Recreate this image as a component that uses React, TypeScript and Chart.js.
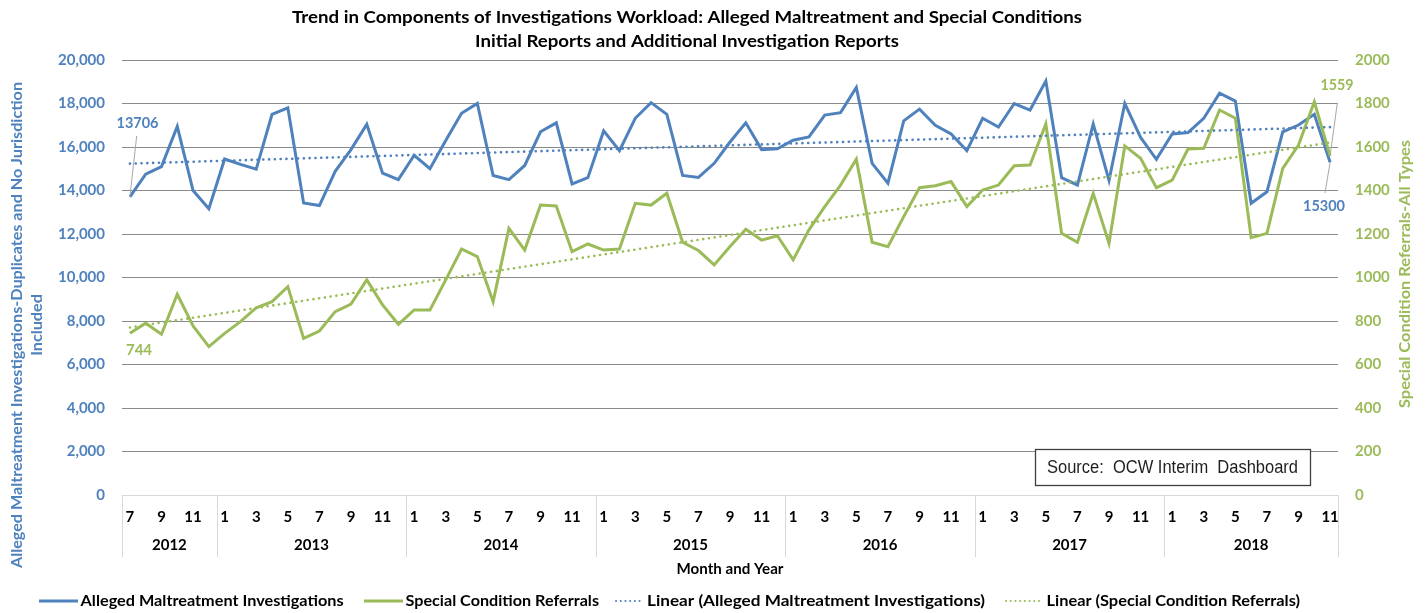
import React, { useEffect, useRef } from "react";
import { Chart, registerables } from "chart.js";

Chart.register(...registerables);

// ---------- data ----------
const YEARS = [2012, 2013, 2014, 2015, 2016, 2017, 2018];
const YEAR_MONTHS: number[][] = [
  [7, 8, 9, 10, 11, 12],
  [1, 2, 3, 4, 5, 6, 7, 8, 9, 10, 11, 12],
  [1, 2, 3, 4, 5, 6, 7, 8, 9, 10, 11, 12],
  [1, 2, 3, 4, 5, 6, 7, 8, 9, 10, 11, 12],
  [1, 2, 3, 4, 5, 6, 7, 8, 9, 10, 11, 12],
  [1, 2, 3, 4, 5, 6, 7, 8, 9, 10, 11, 12],
  [1, 2, 3, 4, 5, 6, 7, 8, 9, 10, 11],
];

const ALLEGED = [
  13706, 14750, 15100, 16950, 14000, 13160,
  15450, 15200, 14980, 17500, 17800, 13430, 13310, 14880, 15880, 17040, 14800, 14500,
  15620, 15000, 16300, 17550, 18000, 14690, 14500, 15150, 16700, 17110, 14300, 14590,
  16740, 15830, 17320, 18040, 17500, 14690, 14600, 15250, 16230, 17110, 15880, 15920,
  16310, 16460, 17470, 17580, 18740, 15250, 14340, 17200, 17740, 17000, 16600, 15830,
  17320, 16920, 18000, 17700, 19030, 14590, 14250, 17060, 14460, 18000, 16440, 15430,
  16600, 16660, 17320, 18470, 18110, 13410, 13940, 16700, 17010, 17500, 15300,
];

const SPECIAL = [
  744, 790, 739, 923, 777, 682,
  743, 797, 861, 889, 958, 720, 754, 843, 878, 989, 874, 785,
  851, 851, 989, 1131, 1096, 889, 1226, 1126, 1333, 1329, 1119, 1154,
  1126, 1131, 1341, 1333, 1387, 1162, 1124, 1058, 1142, 1222, 1172, 1192,
  1081, 1219, 1326, 1425, 1544, 1162, 1142, 1280, 1413, 1422, 1441, 1326,
  1402, 1425, 1514, 1517, 1706, 1203, 1162, 1387, 1157, 1605, 1548, 1413,
  1448, 1591, 1594, 1770, 1732, 1183, 1203, 1502, 1609, 1808, 1559,
];

const LEFT_TICKS_MAX = 20000;
const LEFT_STEP = 2000;
const RIGHT_TICKS_MAX = 2000;
const RIGHT_STEP = 200;

const TITLE_LINES = [
  "Trend in Components of Investigations Workload: Alleged Maltreatment and Special Conditions",
  "Initial Reports and Additional Investigation Reports",
];
const LEFT_TITLE = [
  "Alleged Maltreatment Investigations-Duplicates and No Jurisdiction",
  "Included",
];
const RIGHT_TITLE = "Special Condition Referrals-All Types";
const X_TITLE = "Month and Year";
const SOURCE = "Source:  OCW Interim  Dashboard";
const SERIES_NAMES = ["Alleged Maltreatment Investigations", "Special Condition Referrals"];
const TREND_NAMES = [
  "Linear (Alleged Maltreatment Investigations)",
  "Linear (Special Condition Referrals)",
];

// categories built from the year/month lists
const CATEGORIES: string[] = [];
const CAT_MONTH: number[] = [];
YEAR_MONTHS.forEach((ms, yi) =>
  ms.forEach((m) => {
    CATEGORIES.push(`${m}/${YEARS[yi]}`);
    CAT_MONTH.push(m);
  })
);

// least-squares linear trend (as a spreadsheet "Linear" trendline)
function linearTrend(v: number[]): number[] {
  const n = v.length;
  let sx = 0, sy = 0, sxx = 0, sxy = 0;
  for (let i = 0; i < n; i++) {
    const x = i + 1;
    sx += x; sy += v[i]; sxx += x * x; sxy += x * v[i];
  }
  const b = (n * sxy - sx * sy) / (n * sxx - sx * sx);
  const a = (sy - b * sx) / n;
  return v.map((_, i) => a + b * (i + 1));
}

// ---------- style ----------
const BLUE = "#4F81BD";
const GREEN = "#9BBB59";
const FONT = "Lato, 'Open Sans', sans-serif";
const SRC_FONT = "'Liberation Sans', Arial, sans-serif";

function drawText(
  ctx: CanvasRenderingContext2D,
  text: string,
  x: number,
  y: number,
  size: number,
  weight: string,
  color: string,
  targetW: number | null,
  align: CanvasTextAlign = "center",
  rotate = 0,
  family = FONT,
  fixedScale?: number
): number {
  ctx.save();
  ctx.font = `${weight} ${size}px ${family}`;
  const w = ctx.measureText(text).width;
  const sx = fixedScale !== undefined ? fixedScale : targetW ? targetW / w : 1;
  ctx.translate(x, y);
  if (rotate) ctx.rotate(rotate);
  ctx.scale(sx, 1);
  ctx.textAlign = align;
  ctx.textBaseline = "middle";
  ctx.fillStyle = color;
  ctx.fillText(text, 0, 0);
  ctx.restore();
  return sx;
}

function line(ctx: CanvasRenderingContext2D, x1: number, y1: number, x2: number, y2: number, color: string, w: number, dash?: number[]) {
  ctx.save();
  ctx.strokeStyle = color;
  ctx.lineWidth = w;
  if (dash) {
    ctx.setLineDash(dash);
    ctx.lineCap = "round";
  }
  ctx.beginPath();
  ctx.moveTo(x1, y1);
  ctx.lineTo(x2, y2);
  ctx.stroke();
  ctx.restore();
}

const decorPlugin = {
  id: "decor",
  afterDraw(chart: any) {
    const ctx: CanvasRenderingContext2D = chart.ctx;
    const ca = chart.chartArea;
    const xs = chart.scales.x;
    const n = CATEGORIES.length;
    const cw = (ca.right - ca.left) / n;

    // title
    const s1 = drawText(ctx, TITLE_LINES[0], 687, 18, 17, "bold", "#000", 790);
    drawText(ctx, TITLE_LINES[1], 687, 42, 17, "bold", "#000", null, "center", 0, FONT, s1);

    // month labels (every other)
    for (let i = 0; i < n; i += 2) {
      drawText(ctx, String(CAT_MONTH[i]), xs.getPixelForValue(i), 517, 15, "bold", "#000", null);
    }
    // year labels & separators
    let start = 0;
    line(ctx, ca.left + 0.5, ca.bottom, ca.left + 0.5, 557, "#d9d9d9", 1);
    YEAR_MONTHS.forEach((ms, yi) => {
      const end = start + ms.length;
      const x0 = ca.left + start * cw;
      const x1 = ca.left + end * cw;
      drawText(ctx, String(YEARS[yi]), (x0 + x1) / 2, 545, 15, "bold", "#000", null);
      line(ctx, Math.round(x1) + 0.5, ca.bottom, Math.round(x1) + 0.5, 557, "#d9d9d9", 1);
      start = end;
    });
    drawText(ctx, X_TITLE, (ca.left + ca.right) / 2, 569, 15, "bold", "#000", 107);

    // axis titles
    const ls = drawText(ctx, LEFT_TITLE[0], 17, 325, 15, "bold", BLUE, 486, "center", -Math.PI / 2);
    drawText(ctx, LEFT_TITLE[1], 37, 325, 15, "bold", BLUE, null, "center", -Math.PI / 2, FONT, ls);
    drawText(ctx, RIGHT_TITLE, 1405, 274, 15, "bold", GREEN, 268, "center", -Math.PI / 2);

    // data labels with leader lines
    const mA = chart.getDatasetMeta(0).data;
    const mS = chart.getDatasetMeta(1).data;
    const pA0 = mA[0], pAL = mA[mA.length - 1], pSL = mS[mS.length - 1];
    line(ctx, 136.7, 136, pA0.x, pA0.y, "#a6a6a6", 1);
    drawText(ctx, String(ALLEGED[0]), 137.5, 123, 15, "bold", BLUE, 42);
    drawText(ctx, String(SPECIAL[0]), 139, 350, 15, "bold", GREEN, null);
    line(ctx, 1337.3, 103, pSL.x, pSL.y, "#a6a6a6", 1);
    drawText(ctx, String(SPECIAL[SPECIAL.length - 1]), 1337, 85, 15, "bold", GREEN, 33);
    line(ctx, 1325, 193, pAL.x, pAL.y, "#a6a6a6", 1);
    drawText(ctx, String(ALLEGED[ALLEGED.length - 1]), 1324, 206, 15, "bold", BLUE, 42);

    // source box
    ctx.save();
    ctx.fillStyle = "#fff";
    ctx.fillRect(1035.5, 449.5, 275, 36);
    ctx.strokeStyle = "#3f3f3f";
    ctx.lineWidth = 1.3;
    ctx.strokeRect(1035.5, 449.5, 275, 36);
    ctx.restore();
    drawText(ctx, SOURCE, 1047, 468, 18, "normal", "#1f1f1f", 251, "left", 0, SRC_FONT);

    // legend
    const ly = 601;
    line(ctx, 39, ly, 78, ly, BLUE, 3);
    drawText(ctx, SERIES_NAMES[0], 80.6, ly, 15, "bold", "#000", 263, "left");
    line(ctx, 364, ly, 403, ly, GREEN, 3);
    drawText(ctx, SERIES_NAMES[1], 405.5, ly, 15, "bold", "#000", 193.5, "left");
    line(ctx, 616, ly, 644, ly, BLUE, 2, [0.1, 4.6]);
    drawText(ctx, TREND_NAMES[0], 647, ly, 15, "bold", "#000", 338, "left");
    line(ctx, 1006, ly, 1042, ly, GREEN, 2, [0.1, 4.6]);
    drawText(ctx, TREND_NAMES[1], 1046.5, ly, 15, "bold", "#000", 253.5, "left");
  },
};

export default function App() {
  const ref = useRef<HTMLCanvasElement | null>(null);

  useEffect(() => {
    if (!ref.current) return;
    const trendA = linearTrend(ALLEGED);
    const trendS = linearTrend(SPECIAL);
    const chart = new Chart(ref.current, {
      type: "line",
      data: {
        labels: CATEGORIES,
        datasets: [
          {
            label: SERIES_NAMES[0],
            data: ALLEGED,
            yAxisID: "y",
            borderColor: BLUE,
            backgroundColor: BLUE,
            borderWidth: 3,
            pointRadius: 0,
            tension: 0,
            order: 4,
          },
          {
            label: SERIES_NAMES[1],
            data: SPECIAL,
            yAxisID: "y1",
            borderColor: GREEN,
            backgroundColor: GREEN,
            borderWidth: 3,
            pointRadius: 0,
            tension: 0,
            order: 3,
          },
          {
            label: TREND_NAMES[0],
            data: trendA,
            yAxisID: "y",
            borderColor: BLUE,
            borderWidth: 2.6,
            borderDash: [0.1, 5.7],
            borderCapStyle: "round",
            pointRadius: 0,
            order: 2,
          },
          {
            label: TREND_NAMES[1],
            data: trendS,
            yAxisID: "y1",
            borderColor: GREEN,
            borderWidth: 2.6,
            borderDash: [0.1, 5.7],
            borderCapStyle: "round",
            pointRadius: 0,
            order: 1,
          },
        ],
      },
      options: {
        responsive: false,
        maintainAspectRatio: false,
        devicePixelRatio: 1,
        animation: false,
        events: [],
        layout: { padding: { top: 60, left: 0, right: 0, bottom: 0 } },
        plugins: {
          legend: { display: false },
          title: { display: false },
          tooltip: { enabled: false },
        },
        scales: {
          x: {
            type: "category",
            offset: true,
            grid: { display: false },
            border: { display: true, color: "#d9d9d9", width: 1 },
            ticks: { display: false },
            afterFit: (s: any) => {
              s.height = 118;
            },
          },
          y: {
            position: "left",
            min: 0,
            max: LEFT_TICKS_MAX,
            grid: {
              drawTicks: false,
              color: (c: any) => (c.tick && c.tick.value === 0 ? "#d9d9d9" : "#8a8a8a"),
              lineWidth: 1,
            },
            border: { display: false },
            ticks: {
              stepSize: LEFT_STEP,
              padding: 17,
              color: BLUE,
              font: { family: FONT, weight: "bold", size: 15 },
              callback: (v: any) => Number(v).toLocaleString("en-US"),
            },
            afterFit: (s: any) => {
              s.width = 122;
            },
          },
          y1: {
            position: "right",
            min: 0,
            max: RIGHT_TICKS_MAX,
            grid: { display: false, drawTicks: false },
            border: { display: false },
            ticks: {
              stepSize: RIGHT_STEP,
              padding: 17,
              color: GREEN,
              font: { family: FONT, weight: "bold", size: 15 },
              callback: (v: any) => String(v),
            },
            afterFit: (s: any) => {
              s.width = 88;
            },
          },
        },
      },
      plugins: [decorPlugin],
    } as any);
    return () => chart.destroy();
  }, []);

  return (
    <div style={{ position: "fixed", left: 0, top: 0, width: 1426, height: 613, background: "#fff" }}>
      <canvas ref={ref} width={1426} height={613} style={{ display: "block" }} />
    </div>
  );
}
